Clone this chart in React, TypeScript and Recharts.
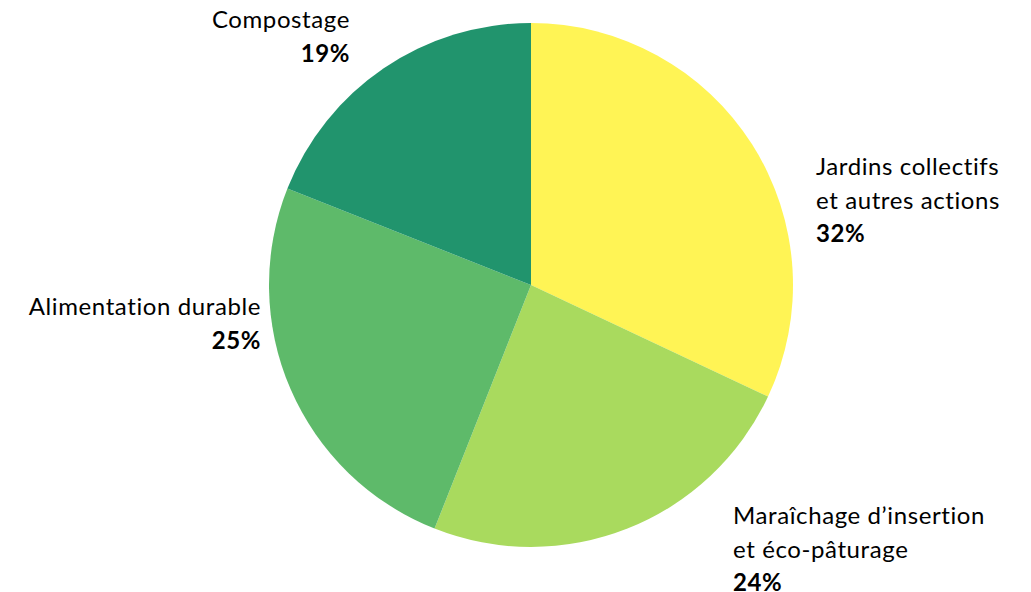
import React from "react";
import { PieChart, Pie, Cell } from "recharts";

const categories = ["Jardins collectifs|et autres actions", "Maraîchage d’insertion|et éco-pâturage", "Alimentation durable", "Compostage"];
const shares = [32, 24, 25, 19];
const percentLabels = ["32%", "24%", "25%", "19%"];

const colors = ["#FFF455", "#A9DA5E", "#5EBA6A", "#21946D"];
// label placement relative to pie centre (anchor, dx, dy of first baseline)
const labelPlacement = [
  { anchor: "start", dx: 285, dy: -110 },
  { anchor: "start", dx: 202, dy: 239 },
  { anchor: "end", dx: -270, dy: 30 },
  { anchor: "end", dx: -181, dy: -257 },
];

const data = categories.map((c, i) => ({ name: c, value: shares[i], pct: percentLabels[i] }));

const FONT = "Lato, 'Open Sans', sans-serif";
const LINE = 33.5;

const renderLabel = (props: any) => {
  const { cx, cy, index } = props;
  const p = labelPlacement[index];
  const lines = data[index].name.split("|");
  const x = cx + p.dx;
  const y0 = cy + p.dy;
  return (
    <text x={x} y={y0} textAnchor={p.anchor} fill="#000" fontFamily={FONT} fontSize={24} letterSpacing={0.6}>
      {lines.map((l, k) => (
        <tspan key={k} x={x} y={y0 + k * LINE}>{l}</tspan>
      ))}
      <tspan x={x} y={y0 + lines.length * LINE} fontWeight="bold">{data[index].pct}</tspan>
    </text>
  );
};

export default function App() {
  return (
    <div style={{ width: 1031, height: 592, background: "#fff" }}>
      <style>{`body{margin:0}`}</style>
      <PieChart width={1031} height={592} margin={{ top: 0, right: 0, bottom: 0, left: 0 }}>
        <Pie
          data={data}
          dataKey="value"
          nameKey="name"
          cx={531}
          cy={285}
          outerRadius={262}
          startAngle={90}
          endAngle={-270}
          stroke="none"
          labelLine={false}
          label={renderLabel}
          isAnimationActive={false}
        >
          {data.map((d, i) => (
            <Cell key={i} fill={colors[i]} />
          ))}
        </Pie>
      </PieChart>
    </div>
  );
}
